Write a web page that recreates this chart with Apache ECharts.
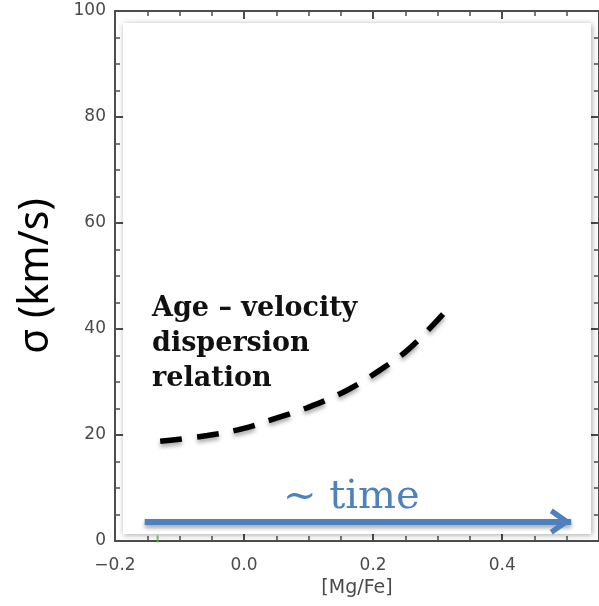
<!DOCTYPE html>
<html>
<head>
<meta charset="utf-8">
<script src="https://cdn.jsdelivr.net/npm/echarts@6/dist/echarts.min.js"></script>
<style>
  html, body { margin: 0; padding: 0; background: #ffffff; }
  #chart { width: 599px; height: 606px; }
</style>
</head>
<body>
<div id="chart"></div>
<script>
// Axis ranges and tick labels
const xRange = [-0.2, 0.55];
const yRange = [0, 100];
const xTickLabels = [-0.2, 0.0, 0.2, 0.4];
const yTickLabels = [0, 20, 40, 60, 80, 100];

// Age – velocity dispersion relation (dashed curve)
const curveX = [-0.130, -0.057, -0.002, 0.045, 0.097, 0.159, 0.210, 0.256, 0.312];
const curveY = [18.8, 19.9, 21.2, 23.0, 25.1, 28.4, 32.2, 36.3, 43.3];

// "~ time" arrow along the bottom
const arrowX = [-0.154, 0.507];
const arrowY = [3.7, 3.7];

// small green mark on the lower axis
const markX = [-0.134];
const markY = [0.4];

const BLUE = '#4f81bd';
const AXIS = '#4d4d4d';
const fmt = v => {
  const s = Math.abs(v) < 1e-9 ? '0.0' : v.toFixed(1);
  return s.replace('-', '\u2212');
};

const chart = echarts.init(document.getElementById('chart'));

const commonX = {
  type: 'value', min: xRange[0], max: xRange[1], interval: 0.2,
  axisLine: { show: true, onZero: false, lineStyle: { color: AXIS, width: 2 } },
  axisTick: { show: true, inside: true, length: 8, lineStyle: { color: AXIS, width: 2 } },
  minorTick: { show: true, splitNumber: 4, length: 5, lineStyle: { color: AXIS, width: 1.5 } },
  splitLine: { show: false }
};
const commonY = {
  type: 'value', min: yRange[0], max: yRange[1], interval: 20,
  axisLine: { show: true, onZero: false, lineStyle: { color: AXIS, width: 2 } },
  axisTick: { show: true, inside: true, length: 8, lineStyle: { color: AXIS, width: 2 } },
  minorTick: { show: true, splitNumber: 4, length: 5, lineStyle: { color: AXIS, width: 1.5 } },
  splitLine: { show: false }
};

// chevron arrow head; the lone move-to keeps the tip at the symbol centre
const chevron = 'path://M12 0 M12 21.5 L25 40 L20.5 43 L12 31 L3.5 43 L-1 40 Z';

chart.setOption({
  animation: false,
  grid: { left: 115, right: -1, top: 11, bottom: 65 },
  xAxis: [
    Object.assign({}, commonX, {
      position: 'bottom',
      name: '[Mg/Fe]', nameLocation: 'middle', nameGap: 38,
      nameTextStyle: { fontFamily: 'DejaVu Sans', fontSize: 19, color: '#4a4a4a' },
      axisLabel: {
        show: true, margin: 16, showMaxLabel: false,
        fontFamily: 'DejaVu Sans', fontSize: 17, color: '#4a4a4a',
        formatter: v => xTickLabels.some(t => Math.abs(t - v) < 1e-6) ? fmt(v) : ''
      }
    }),
    Object.assign({}, commonX, { position: 'top', axisLabel: { show: false } })
  ],
  yAxis: [
    Object.assign({}, commonY, {
      position: 'left',
      name: '\u03c3 (km/s)', nameLocation: 'middle', nameGap: 58, nameRotate: 90,
      nameTextStyle: { fontFamily: 'Noto Sans', fontSize: 41, color: '#000000' },
      axisLabel: {
        show: true, margin: 9,
        fontFamily: 'DejaVu Sans', fontSize: 17, color: '#4a4a4a',
        formatter: v => yTickLabels.includes(v) ? String(v) : ''
      }
    }),
    Object.assign({}, commonY, { position: 'right', axisLabel: { show: false } })
  ],
  graphic: [
    {
      type: 'rect', z: 1, silent: true,
      shape: { x: 123, y: 23, width: 468, height: 511 },
      style: { fill: '#ffffff', shadowBlur: 6, shadowColor: 'rgba(0,0,0,0.35)', shadowOffsetX: 1, shadowOffsetY: 1 }
    },
    {
      type: 'text', z: 10, left: 152, top: 291, silent: true,
      style: {
        text: 'Age \u2013 velocity\ndispersion\nrelation',
        font: 'bold 27px "DejaVu Serif"', fill: '#111111', lineHeight: 35
      }
    },
    {
      type: 'text', z: 10, left: 283, top: 478, silent: true,
      style: { text: '~ time', font: '40px "DejaVu Serif"', fill: BLUE }
    }
  ],
  series: [
    {
      type: 'line', smooth: 0.4, symbol: 'none', z: 5,
      data: curveX.map((x, i) => [x, curveY[i]]),
      lineStyle: {
        color: '#000000', width: 5.5, type: [22, 15], cap: 'butt',
        shadowBlur: 4, shadowColor: 'rgba(0,0,0,0.35)', shadowOffsetY: 3
      }
    },
    {
      type: 'line', symbol: 'none', data: [], z: 5,
      markLine: {
        silent: true, animation: false,
        symbol: ['none', chevron], symbolSize: [26, 43],
        label: { show: false },
        lineStyle: {
          color: BLUE, width: 6, type: 'solid',
          shadowBlur: 4, shadowColor: 'rgba(0,0,0,0.35)', shadowOffsetY: 3
        },
        data: [[
          { coord: [arrowX[0], arrowY[0]] },
          { coord: [arrowX[1], arrowY[1]] }
        ]]
      }
    },
    {
      type: 'scatter', z: 5,
      symbol: 'rect', symbolSize: [2, 7],
      itemStyle: { color: '#44bb33' },
      data: markX.map((x, i) => [x, markY[i]])
    }
  ]
});
</script>
</body>
</html>
